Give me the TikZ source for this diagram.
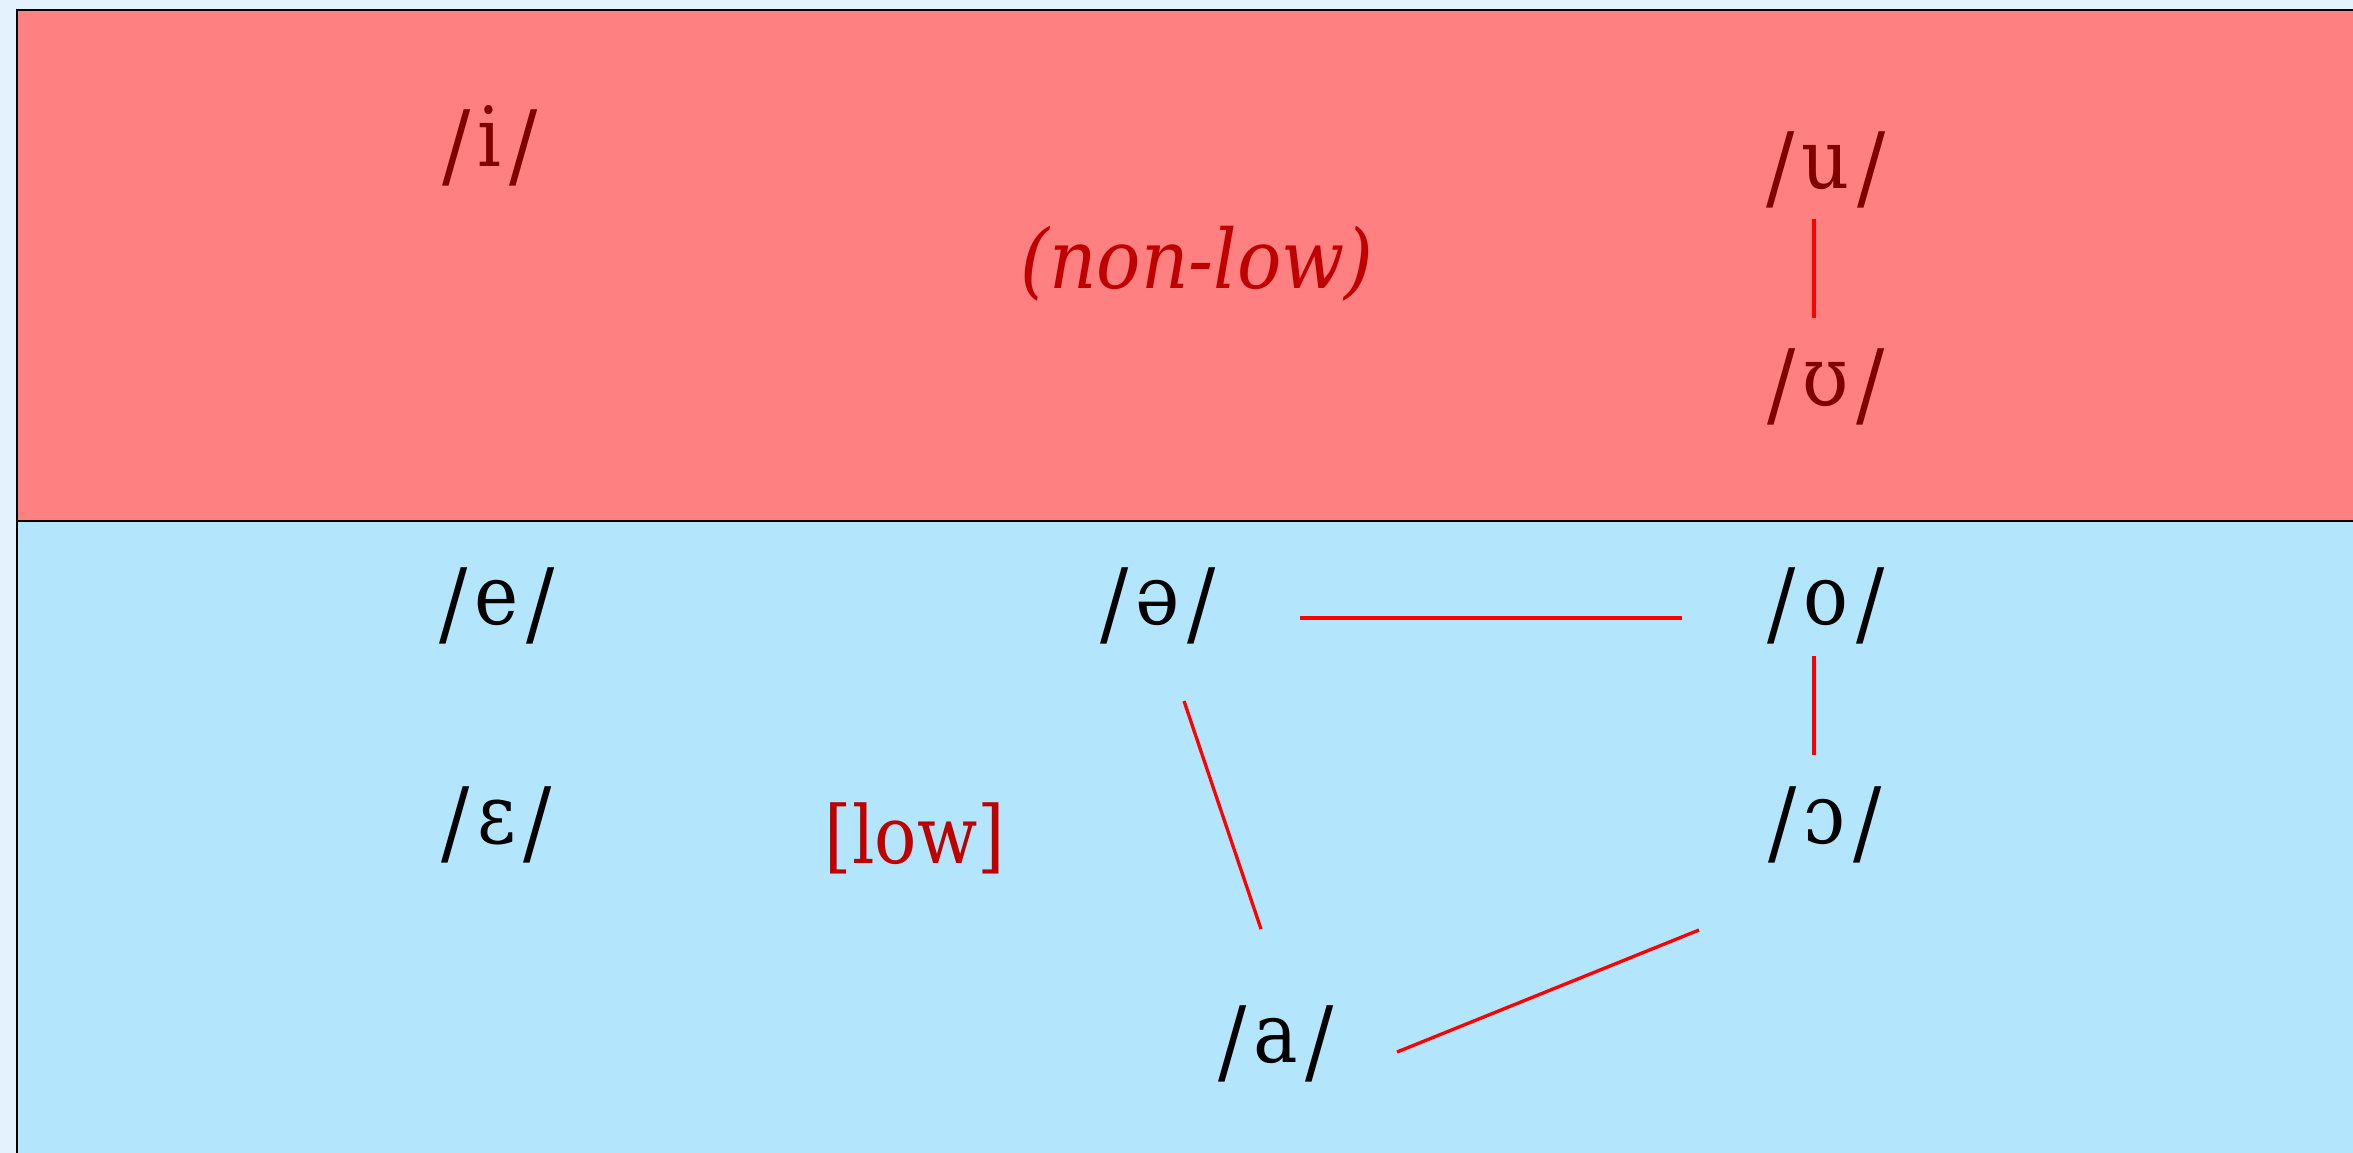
\documentclass[tikz,border=0pt]{standalone}
\usepackage{fontspec}
\setmainfont{DejaVu Serif}
\newfontfamily\phfont[FakeStretch=0.9]{DejaVu Serif}
\newfontfamily\labfont[FakeStretch=0.88]{DejaVu Serif}
\newfontfamily\labitfont[FakeStretch=0.9]{DejaVu Serif Italic}
\definecolor{pagebg}{RGB}{227,242,253}
\definecolor{redzone}{RGB}{255,128,128}
\definecolor{bluezone}{RGB}{179,229,252}
\definecolor{darkred}{RGB}{128,0,0}
\definecolor{labelred}{RGB}{192,0,0}
\definecolor{linkred}{RGB}{255,0,0}
\newcommand\phslash{\raisebox{-11pt}{\fontsize{93}{100}\selectfont\phfont /}}
\newcommand\phn[1]{\phslash\kern7pt#1\kern8pt\phslash}
\tikzset{
  phon/.style={anchor=base, inner sep=0pt, font=\phfont\fontsize{83}{96}\selectfont},
  phonhi/.style={phon, text=darkred},
  phonlo/.style={phon, text=black},
  featlabel/.style={anchor=base, inner sep=0pt, text=labelred, font=\labfont\fontsize{80}{96}\selectfont},
  link/.style={draw=linkred, line width=3.3pt},
}
\begin{document}
\begin{tikzpicture}[x=1pt,y=-1pt]
\useasboundingbox (0,0) rectangle (2353,1153);
\clip (0,0) rectangle (2353,1153);
\fill[pagebg] (0,0) rectangle (2353,1153);
\fill[redzone] (17,10) rectangle (2360,521);
\fill[bluezone] (17,521) rectangle (2360,1160);
\draw[black, line width=2pt] (17,1160) -- (17,10) -- (2360,10);
\draw[black, line width=2pt] (17,521) -- (2360,521);

\node[phonhi] (i) at (490,167) {\phn{i}};
\node[featlabel, font=\labitfont\fontsize{82}{96}\selectfont] (nonlow) at (1197,288) {(non-low)};
\node[phonhi] (u) at (1826,188) {\phn{u}};
\node[phonhi] (U) at (1826,405) {\phn{ʊ}};

\node[phonlo] (e) at (497,624) {\phn{e}};
\node[phonlo] (schwa) at (1158,624) {\phn{ə}};
\node[phonlo] (o) at (1826,624) {\phn{o}};
\node[phonlo] (E) at (497,843) {\phn{ɛ}};
\node[featlabel] (low) at (915,863) {[low]};
\node[phonlo] (O) at (1825,843) {\phn{ɔ}};
\node[phonlo] (a) at (1276,1062) {\phn{a}};

\coordinate (uA) at (1814,219);
\coordinate (UA) at (1814,318);
\coordinate (schwaA) at (1300,618);
\coordinate (oA) at (1682,618);
\coordinate (oB) at (1814,656);
\coordinate (OB) at (1814,755);
\coordinate (schwaC) at (1184,701);
\coordinate (aC) at (1261,929);
\coordinate (aD) at (1397,1052);
\coordinate (OD) at (1699,930);

\draw[link] (uA) -- (UA);
\draw[link] (schwaA) -- (oA);
\draw[link] (oB) -- (OB);
\draw[link] (schwaC) -- (aC);
\draw[link] (aD) -- (OD);
\end{tikzpicture}
\end{document}
